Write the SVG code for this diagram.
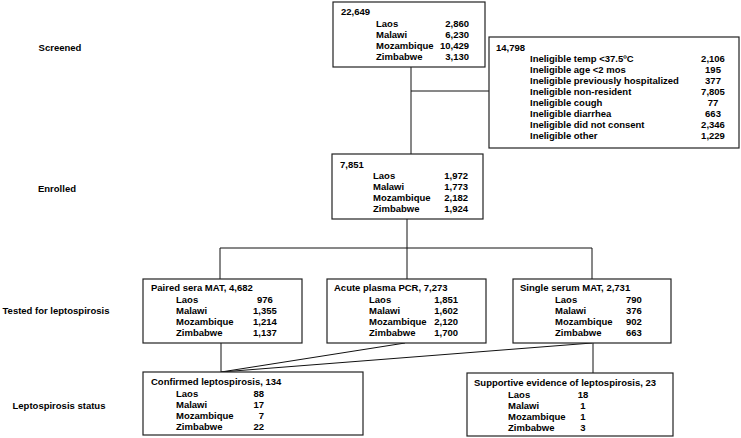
<svg xmlns="http://www.w3.org/2000/svg" width="741" height="438" viewBox="0 0 741 438">
<style>
text{font-family:"Liberation Sans",Arial,sans-serif;font-size:9.5px;font-weight:bold;fill:#000}
.box{fill:#fff;stroke:#222;stroke-width:1.2}
.e{text-anchor:end}
.m{text-anchor:middle}
.con{stroke:#111;stroke-width:1;fill:none}
</style>
<rect width="741" height="438" fill="#fff"/>
<g id="labels">
<text class="m" x="60" y="51">Screened</text>
<text class="m" x="57" y="192">Enrolled</text>
<text class="m" x="56" y="314">Tested for leptospirosis</text>
<text class="m" x="59" y="409">Leptospirosis status</text>
</g>
<g id="connectors" class="con">
<line x1="411" y1="67" x2="411" y2="154"/>
<line x1="411" y1="91" x2="489" y2="91"/>
<line x1="407" y1="219" x2="407" y2="279"/>
<line x1="220" y1="248" x2="592" y2="248"/>
<line x1="220" y1="248" x2="220" y2="279"/>
<line x1="592" y1="248" x2="592" y2="279"/>
<line x1="221" y1="343" x2="221" y2="372"/>
<line x1="405" y1="343" x2="221" y2="372"/>
<line x1="592" y1="343" x2="221" y2="372"/>
<line x1="593" y1="343" x2="593" y2="373"/>
</g>
<g id="screened">
<rect class="box" x="333" y="2" width="152" height="65"/>
<text x="341" y="15">22,649</text>
<text x="376" y="27">Laos</text><text class="e" x="469" y="27">2,860</text>
<text x="376" y="38">Malawi</text><text class="e" x="469" y="38">6,230</text>
<text x="376" y="49">Mozambique</text><text class="e" x="469" y="49">10,429</text>
<text x="376" y="60">Zimbabwe</text><text class="e" x="469" y="60">3,130</text>
</g>
<g id="excluded">
<rect class="box" x="489" y="37" width="250" height="111"/>
<text x="496" y="51">14,798</text>
<text x="530" y="62">Ineligible temp &lt;37.5ºC</text><text class="m" x="713" y="62">2,106</text>
<text x="530" y="73">Ineligible age &lt;2 mos</text><text class="m" x="713" y="73">195</text>
<text x="530" y="84">Ineligible previously hospitalized</text><text class="m" x="713" y="84">377</text>
<text x="530" y="95">Ineligible non-resident</text><text class="m" x="713" y="95">7,805</text>
<text x="530" y="106">Ineligible cough</text><text class="m" x="713" y="106">77</text>
<text x="530" y="117">Ineligible diarrhea</text><text class="m" x="713" y="117">663</text>
<text x="530" y="128">Ineligible did not consent</text><text class="m" x="713" y="128">2,346</text>
<text x="530" y="139">Ineligible other</text><text class="m" x="713" y="139">1,229</text>
</g>
<g id="enrolled">
<rect class="box" x="332" y="154" width="151" height="65"/>
<text x="340" y="168">7,851</text>
<text x="373" y="179">Laos</text><text class="e" x="468" y="179">1,972</text>
<text x="373" y="190">Malawi</text><text class="e" x="468" y="190">1,773</text>
<text x="373" y="201">Mozambique</text><text class="e" x="468" y="201">2,182</text>
<text x="373" y="212">Zimbabwe</text><text class="e" x="468" y="212">1,924</text>
</g>
<g id="paired">
<rect class="box" x="143" y="279" width="159" height="64"/>
<text x="151" y="291">Paired sera MAT, 4,682</text>
<text x="176" y="303">Laos</text><text x="257" y="303">976</text>
<text x="176" y="314">Malawi</text><text x="253" y="314">1,355</text>
<text x="176" y="325">Mozambique</text><text x="253" y="325">1,214</text>
<text x="176" y="336">Zimbabwe</text><text x="253" y="336">1,137</text>
</g>
<g id="acute">
<rect class="box" x="327" y="279" width="159" height="64"/>
<text x="334" y="291">Acute plasma PCR, 7,273</text>
<text x="369" y="303">Laos</text><text class="e" x="458" y="303">1,851</text>
<text x="369" y="314">Malawi</text><text class="e" x="458" y="314">1,602</text>
<text x="369" y="325">Mozambique</text><text class="e" x="458" y="325">2,120</text>
<text x="369" y="336">Zimbabwe</text><text class="e" x="458" y="336">1,700</text>
</g>
<g id="single">
<rect class="box" x="513" y="279" width="158" height="64"/>
<text x="520" y="291">Single serum MAT, 2,731</text>
<text x="555" y="303">Laos</text><text x="626" y="303">790</text>
<text x="555" y="314">Malawi</text><text x="626" y="314">376</text>
<text x="555" y="325">Mozambique</text><text x="626" y="325">902</text>
<text x="555" y="336">Zimbabwe</text><text x="626" y="336">663</text>
</g>
<g id="confirmed">
<rect class="box" x="143" y="372" width="220" height="63"/>
<text x="151" y="385">Confirmed leptospirosis, 134</text>
<text x="176" y="397">Laos</text><text class="e" x="264" y="397">88</text>
<text x="176" y="408">Malawi</text><text class="e" x="264" y="408">17</text>
<text x="176" y="419">Mozambique</text><text class="e" x="264" y="419">7</text>
<text x="176" y="430">Zimbabwe</text><text class="e" x="264" y="430">22</text>
</g>
<g id="supportive">
<rect class="box" x="467" y="373" width="206" height="63"/>
<text x="474" y="386">Supportive evidence of leptospirosis, 23</text>
<text x="508" y="398">Laos</text><text class="m" x="583" y="398">18</text>
<text x="508" y="409">Malawi</text><text class="m" x="583" y="409">1</text>
<text x="508" y="420">Mozambique</text><text class="m" x="583" y="420">1</text>
<text x="508" y="431">Zimbabwe</text><text class="m" x="583" y="431">3</text>
</g>
</svg>
